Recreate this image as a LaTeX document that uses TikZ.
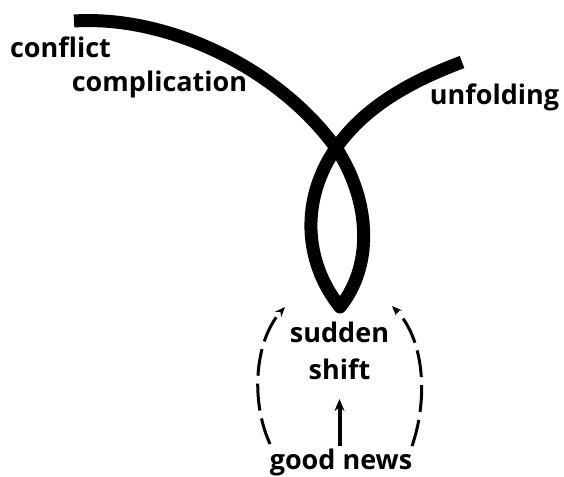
\documentclass[tikz,border=0pt]{standalone}
\usepackage{fontspec}
\setmainfont{Open Sans}
\usetikzlibrary{arrows.meta}
\tikzset{
  lbl/.style={font=\fontsize{27}{30}\selectfont\bfseries, inner sep=0pt, anchor=base},
  rope/.style={line width=13pt, line join=round, line cap=butt},
  dasharrow/.style={line width=3pt, dash pattern=on 27pt off 8pt, -{Stealth[length=10pt,width=8pt]}},
  solidarrow/.style={line width=4pt, -{Stealth[length=12pt,width=10pt]}}
}
\begin{document}
\begin{tikzpicture}[x=1pt,y=-1pt]
\useasboundingbox (0,0) rectangle (564,476);
% rope
\draw[rope] (74,21) .. controls (170,15) and (280,70) .. (336,148)
  .. controls (368,196) and (376,262) .. (340,307)
  .. controls (304,262) and (300,200) .. (336,148)
  .. controls (368,102) and (420,78) .. (462,62);
% labels
\node[lbl] (conflict) at (60.5,58) {conflict};
\node[lbl] (complication) at (159.5,92) {complication};
\node[lbl] (unfolding) at (494.5,104) {unfolding};
\node[lbl] (sudden) at (339.5,342) {sudden};
\node[lbl] (shift) at (339.5,379) {shift};
\node[lbl] (good) at (341,469) {good news};
% arrows
\coordinate (ltip) at (285,307);
\coordinate (rtip) at (392,306);
\coordinate (lbase) at (270,444);
\coordinate (rbase) at (412,446);
\draw[dasharrow] (lbase) .. controls (250,400) and (255,340) .. (ltip);
\draw[dasharrow] (rbase) .. controls (428,400) and (425,340) .. (rtip);
\draw[solidarrow] (good.north -| shift) ++(0,-2) coordinate (cbase) (cbase) -- (shift.south |- 0,399);
\end{tikzpicture}
\end{document}
